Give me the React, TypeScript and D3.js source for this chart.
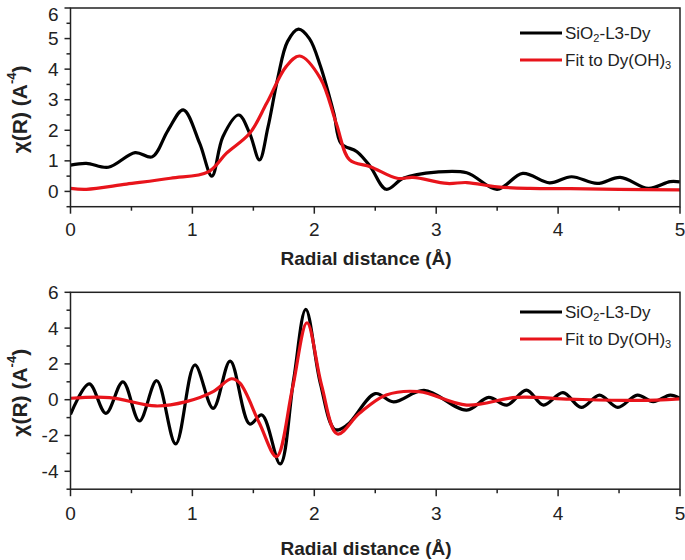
import React from "react";
import * as d3 from "d3";

// ---- Data ----
const topBlackR = [0, 0.13, 0.31, 0.53, 0.67, 0.8, 0.925, 1.06, 1.16, 1.25, 1.38, 1.47, 1.55, 1.62, 1.7, 1.78, 1.87, 1.96, 2.05, 2.16, 2.22, 2.35, 2.46, 2.59, 2.73, 3.0, 3.25, 3.5, 3.71, 3.93, 4.11, 4.32, 4.51, 4.74, 4.92, 5.0];
const topBlackChi = [0.86, 0.92, 0.79, 1.27, 1.13, 2.0, 2.67, 1.57, 0.5, 1.79, 2.5, 1.9, 1.03, 2.1, 3.7, 4.9, 5.31, 5.0, 4.1, 2.56, 1.57, 1.3, 0.81, 0.07, 0.43, 0.63, 0.61, 0.07, 0.59, 0.28, 0.48, 0.26, 0.46, 0.1, 0.32, 0.31];

const topRedR = [0, 0.13, 0.46, 0.82, 1.13, 1.28, 1.47, 1.61, 1.77, 1.88, 2.05, 2.18, 2.29, 2.46, 2.68, 2.81, 3.09, 3.25, 3.5, 3.77, 4.1, 4.5, 5.0];
const topRedChi = [0.1, 0.07, 0.24, 0.43, 0.64, 1.25, 1.9, 2.89, 4.09, 4.43, 3.7, 2.23, 1.03, 0.81, 0.43, 0.46, 0.26, 0.29, 0.15, 0.1, 0.09, 0.07, 0.05];

const botBlackR = [0, 0.154, 0.29, 0.43, 0.565, 0.707, 0.863, 1.02, 1.17, 1.31, 1.47, 1.57, 1.72, 1.83, 1.93, 2.05, 2.17, 2.27, 2.5, 2.65, 2.9, 3.25, 3.43, 3.58, 3.74, 3.88, 4.04, 4.19, 4.34, 4.49, 4.65, 4.78, 4.92, 5.0];
const botBlackChi = [-0.82, 0.88, -0.76, 1.0, -1.19, 1.06, -2.47, 1.94, -0.48, 2.16, -1.36, -0.85, -3.59, 1.1, 5.05, 0.9, -1.67, -1.41, 0.34, -0.12, 0.52, -0.58, 0.13, -0.3, 0.54, -0.3, 0.39, -0.43, 0.26, -0.43, 0.26, -0.11, 0.26, 0.08];

const botRedR = [0, 0.32, 0.7, 0.95, 1.17, 1.32, 1.39, 1.55, 1.69, 1.82, 1.94, 2.06, 2.19, 2.37, 2.59, 2.86, 3.25, 3.66, 4.1, 4.65, 5.0];
const botRedChi = [0.08, 0.12, -0.35, -0.11, 0.45, 1.17, 0.92, -1.32, -3.18, 0.6, 4.3, 0.8, -1.92, -0.76, 0.26, 0.45, -0.3, 0.13, 0.03, -0.04, 0.05];

const xTicks = [0, 1, 2, 3, 4, 5];
const xMinor = [0.5, 1.5, 2.5, 3.5, 4.5];
const topYTicks = [0, 1, 2, 3, 4, 5, 6];
const topYMinor = [-0.5, 0.5, 1.5, 2.5, 3.5, 4.5, 5.5];
const botYTicks = [-4, -2, 0, 2, 4, 6];
const botYMinor = [-5, -3, -1, 1, 3, 5];

const FONT = "'Liberation Sans', Arial, Helvetica, sans-serif";

type PanelProps = {
  top: number;
  bottom: number;
  yDomain: [number, number];
  yTicks: number[];
  yMinor: number[];
  blackR: number[];
  blackChi: number[];
  redR: number[];
  redChi: number[];
  xLabelY: number;
  titleY: number;
  legendY: number;
};

const X0 = 70.5;
const X1 = 680;

function Panel(p: PanelProps) {
  const x = d3.scaleLinear().domain([0, 5]).range([X0, X1]);
  const y = d3.scaleLinear().domain(p.yDomain).range([p.bottom, p.top]);
  const line = d3
    .line<[number, number]>()
    .x((d) => x(d[0]))
    .y((d) => y(d[1]))
    .curve(d3.curveCatmullRom.alpha(0.5));
  const black = line(p.blackR.map((r, i) => [r, p.blackChi[i]] as [number, number])) || "";
  const red = line(p.redR.map((r, i) => [r, p.redChi[i]] as [number, number])) || "";
  const midY = (p.top + p.bottom) / 2;
  return (
    <g>
      <defs>
        <clipPath id={"clip" + Math.round(p.top)}>
          <rect x={X0} y={p.top} width={X1 - X0} height={p.bottom - p.top} />
        </clipPath>
      </defs>
      <g clipPath={`url(#clip${Math.round(p.top)})`}>
        <path d={black} fill="none" stroke="#000" strokeWidth={3.2} strokeLinejoin="round" />
        <path d={red} fill="none" stroke="#e8141b" strokeWidth={3.2} strokeLinejoin="round" />
      </g>
      {/* frame */}
      <rect x={X0} y={p.top} width={X1 - X0} height={p.bottom - p.top} fill="none" stroke="#222" strokeWidth={1.5} />
      {/* x ticks */}
      {xTicks.map((t) => (
        <g key={"xt" + t}>
          <line x1={x(t)} x2={x(t)} y1={p.bottom} y2={p.bottom + 7} stroke="#222" strokeWidth={1.5} />
          <text x={x(t)} y={p.xLabelY} textAnchor="middle" dominantBaseline="central" fontSize={19} fontFamily={FONT} fill="#222">
            {t}
          </text>
        </g>
      ))}
      {xMinor.map((t) => (
        <line key={"xm" + t} x1={x(t)} x2={x(t)} y1={p.bottom} y2={p.bottom + 4} stroke="#222" strokeWidth={1.5} />
      ))}
      {/* y ticks */}
      {p.yTicks.map((t) => (
        <g key={"yt" + t}>
          <line x1={X0 - 6} x2={X0} y1={y(t)} y2={y(t)} stroke="#222" strokeWidth={1.5} />
          <text x={X0 - 12} y={Math.max(y(t), 14)} textAnchor="end" dominantBaseline="central" fontSize={19} fontFamily={FONT} fill="#222">
            {t}
          </text>
        </g>
      ))}
      {p.yMinor.map((t) => (
        <line key={"ym" + t} x1={X0 - 4} x2={X0} y1={y(t)} y2={y(t)} stroke="#222" strokeWidth={1.5} />
      ))}
      {/* axis titles */}
      <text x={366} y={p.titleY} textAnchor="middle" dominantBaseline="central" fontSize={19} fontWeight="bold" fontFamily={FONT} fill="#222">
        Radial distance (Å)
      </text>
      <text
        transform={`translate(19,${midY + 2}) rotate(-90)`}
        textAnchor="middle"
        dominantBaseline="central"
        fontSize={21}
        fontWeight="bold"
        fontFamily={FONT}
        fill="#222"
      >
        χ(R) (A<tspan dy={-8} fontSize={13}>-4</tspan><tspan dy={8}>)</tspan>
      </text>
      {/* legend */}
      <line x1={520} x2={562} y1={p.legendY} y2={p.legendY} stroke="#000" strokeWidth={3} />
      <text x={565} y={p.legendY} dominantBaseline="central" fontSize={17} fontFamily={FONT} fill="#222">
        SiO<tspan dy={5} fontSize={11}>2</tspan><tspan dy={-5}>-L3-Dy</tspan>
      </text>
      <line x1={520} x2={562} y1={p.legendY + 27} y2={p.legendY + 27} stroke="#e8141b" strokeWidth={3} />
      <text x={565} y={p.legendY + 27} dominantBaseline="central" fontSize={17} fontFamily={FONT} fill="#222">
        Fit to Dy(OH)<tspan dy={5} fontSize={11}>3</tspan>
      </text>
    </g>
  );
}

export default function App() {
  return (
    <svg width={685} height={560} style={{ position: "absolute", left: 0, top: 0, background: "#fff" }}>
      <rect x={0} y={0} width={685} height={560} fill="#fff" />
      <Panel
        top={8}
        bottom={206.7}
        yDomain={[-0.5, 6]}
        yTicks={topYTicks}
        yMinor={topYMinor}
        blackR={topBlackR}
        blackChi={topBlackChi}
        redR={topRedR}
        redChi={topRedChi}
        xLabelY={229}
        titleY={258}
        legendY={33}
      />
      <Panel
        top={292.3}
        bottom={489.2}
        yDomain={[-5, 6]}
        yTicks={botYTicks}
        yMinor={botYMinor}
        blackR={botBlackR}
        blackChi={botBlackChi}
        redR={botRedR}
        redChi={botRedChi}
        xLabelY={513}
        titleY={548}
        legendY={312}
      />
    </svg>
  );
}
